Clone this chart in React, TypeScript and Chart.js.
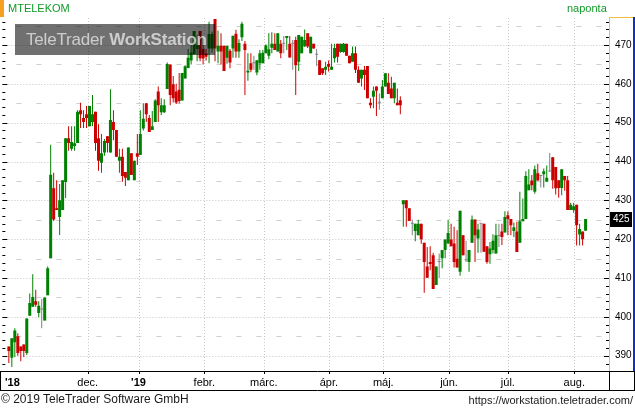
import React, { useEffect, useRef } from 'react';
import { Chart, registerables } from 'chart.js';
Chart.register(...registerables);

// Daily candles (MTELEKOM), left to right, one trading day each
const openP = [
  392.4, 389.5, 393.5, 395, 392.4, 392.9, 390.7, 400.3, 402.6, 404,
  401, 401.9, 399.1, 405.6, 415.1, 433.1, 428, 425.7, 427.5, 434.7,
  446, 443.3, 444, 444.8, 453.2, 451.2, 452.2, 449.1, 450.2, 452.8,
  446, 439.7, 442.3, 446.5, 442.3, 450.2, 448.1, 440.2, 441.2, 437.3,
  435.2, 442.1, 435.2, 442.1, 441.7, 448.5, 455, 451.2, 448.1, 450.2,
  458, 452.7, 452.7, 458.7, 465, 459.9, 458, 458.5, 455.7, 461.4,
  464.1, 466, 467.6, 469, 473.6, 469, 467.8, 469.1, 469.1, 476.7,
  468.3, 469.8, 469.8, 466.7, 468.5, 469.1, 472.9, 468.3, 472, 470.3,
  462.9, 465.3, 465.3, 462.9, 465.3, 465.3, 467.9, 467.2, 469.3, 470.3,
  468.3, 470.3, 470.3, 471.8, 470.3, 470.3, 471.3, 465.7, 467.9, 469.7,
  473, 467.9, 470.3, 467.5, 466.1, 464, 463.6, 465.1, 463.6, 466.6,
  470.3, 468.2, 468.2, 470.3, 467.2, 465.7, 467.9, 463.6, 461.4, 463.6,
  464.6, 455.1, 456.7, 459.3, 455.1, 456.3, 459.3, 460.3, 458.8, 456.3,
  455.1, 455.8, 429, 430, 428, 424, 422.1, 421, 424, 419.1,
  413, 414.1, 415.9, 408.2, 414.1, 415.1, 417.2, 418.9, 419.9, 418.9,
  415, 411.6, 421, 414.6, 414.1, 419.1, 425.1, 420.2, 424, 424,
  418.2, 416.1, 417.2, 416.3, 420.8, 422, 421.7, 426.2, 425.2, 422.1,
  422, 419.1, 424.6, 425.2, 432.6, 435.1, 432.2, 437, 436.3, 436.7,
  434.8, 437.4, 441.1, 438.6, 435.2, 433.2, 436.3, 435.2, 427.5, 427.5,
  428.9, 421.2, 422, 422.2,
];
const highP = [
  392.4, 394.5, 397.1, 395.8, 392.4, 392.9, 399.6, 406, 411, 407,
  404, 404.6, 405, 413, 444.3, 437.1, 435.2, 434.2, 435.2, 446,
  449.1, 449.1, 449.1, 453.2, 455.1, 453.2, 454.3, 454.3, 457.1, 452.8,
  449.6, 447.1, 445.8, 446.5, 458.6, 453.2, 448.1, 443.3, 443.3, 437.3,
  443.6, 442.1, 440.2, 447.1, 453.2, 455, 455, 452, 453, 456,
  459.3, 456.3, 456, 465.5, 465, 462, 460, 462.8, 462.8, 464.8,
  469, 470, 473.6, 472.5, 473.6, 470, 469, 476, 473.5, 476.7,
  473.7, 473, 469.8, 469.8, 469, 472.4, 473.9, 471.5, 476, 471,
  467.9, 467.9, 467.2, 466.1, 468.7, 468.7, 470.2, 473, 473.3, 473,
  473, 471.3, 472.3, 472.3, 472.3, 471.3, 472.1, 472.6, 472.1, 474,
  473, 472.1, 470.3, 469, 466.1, 464, 465.7, 466, 470.3, 470.3,
  470.3, 470.3, 470.5, 470.3, 467.2, 469.6, 469.6, 464.5, 463.6, 464.6,
  464.6, 456.3, 459.3, 459.3, 457.5, 461, 462.7, 462.7, 461.8, 460.3,
  458.8, 456.8, 430, 430, 428, 425.1, 424, 425, 424, 419.1,
  418, 418.2, 416.5, 413, 416.3, 417.2, 419.9, 425, 424, 423.2,
  422.3, 427.3, 421, 419.6, 417.2, 426.1, 425.1, 424, 424, 424,
  418.2, 419.3, 421.3, 424, 424, 424, 427.2, 427.2, 425.2, 424.3,
  424.5, 432.2, 430.5, 437.5, 438, 436.5, 439, 439.4, 436.6, 438.2,
  439, 442.2, 441.1, 438.6, 435.2, 438, 436.3, 436.3, 429.4, 429.4,
  428.9, 424, 422, 425.2,
];
const lowP = [
  388.1, 387.1, 389.7, 390, 388.6, 389.7, 390.2, 400.3, 402.6, 402.6,
  399.9, 397.1, 399.1, 405.6, 415.1, 424.7, 427.5, 421.1, 427.5, 430.6,
  442.8, 442.8, 442.8, 444.8, 448.6, 448.6, 448.6, 449.1, 449.1, 442.8,
  437.6, 437.1, 441.5, 442.3, 442.3, 445.5, 441.2, 437.1, 434.8, 433.7,
  435.2, 436.5, 435.2, 439.1, 441.7, 448, 450.2, 447.6, 448.1, 450.2,
  450.2, 452, 452.5, 458.7, 454.5, 455.2, 454.8, 455, 455.7, 461.4,
  464, 465, 467.6, 465.8, 465.8, 465, 466, 465.3, 468, 465.8,
  465.3, 465, 463.3, 465.2, 464, 466.7, 466.7, 466.7, 471, 457.1,
  460.8, 463, 463.6, 462.2, 463.6, 465.3, 467.9, 466.3, 467.9, 468.7,
  468.3, 466.6, 467.9, 468.7, 466.8, 463.6, 457.1, 463.3, 467.9, 469.5,
  469.2, 467.9, 469.1, 464.6, 462.3, 462.3, 462.3, 463.2, 463.6, 465.5,
  465.5, 468, 468, 467.2, 465.3, 465.7, 462.8, 460.3, 459.3, 458.4,
  456.3, 453.7, 453.7, 451.7, 453.3, 456.3, 459.3, 457.4, 456.3, 455,
  454.5, 452.2, 423.2, 423.2, 424.7, 421, 419.5, 421, 418.8, 406.2,
  410.1, 412, 407.2, 408.2, 410, 412.5, 415.1, 418.9, 418.2, 412.7,
  412.7, 410.6, 415.9, 414.1, 411.6, 419.1, 414.1, 416.5, 416.5, 416.8,
  413.7, 413.7, 416.3, 416.3, 418, 418.5, 421.7, 421, 421, 420.6,
  416.7, 419.1, 424.6, 425.2, 432.6, 432.6, 431.7, 435.1, 433.3, 433.3,
  434.8, 437.4, 433, 431.5, 430.7, 431.3, 432.5, 427.5, 427.5, 426.8,
  418.4, 418.4, 418.4, 422.2,
];
const closeP = [
  391.2, 394.5, 396.5, 390.7, 391.2, 391.2, 399.6, 403.6, 405.1, 403.1,
  402.9, 401.9, 405, 412.5, 436.6, 425.1, 427.5, 430, 435.2, 446,
  444.8, 445, 444.7, 452.8, 452.2, 450.2, 451.2, 454.3, 452.2, 444.8,
  440.2, 442.1, 445.3, 444.8, 450.7, 448.1, 441.2, 441.2, 436.3, 435.8,
  443.6, 436.5, 440.2, 441.2, 447.1, 451, 452.2, 447.6, 449.1, 455.7,
  454.5, 454.5, 454.5, 465.1, 457.1, 456.3, 455.2, 455.6, 462.8, 464.5,
  466.7, 468, 473.6, 470, 466.6, 466.5, 467, 472.8, 472.8, 469.1,
  469.8, 468.3, 463.3, 469.8, 465.5, 472.4, 468.3, 470.5, 475.5, 468.7,
  463.4, 463.6, 465.3, 466.1, 467.9, 468, 469.9, 468.9, 470.3, 468.7,
  473, 467.9, 470.3, 472.3, 466.8, 470.3, 464.8, 472.6, 472.1, 471.3,
  469.6, 472.1, 469.1, 467.5, 462.3, 462.7, 464.4, 464.4, 464.4, 469.2,
  467, 470.3, 470.3, 467.2, 465.3, 467.9, 463.6, 460.3, 463.6, 462.3,
  456.3, 454.5, 458.2, 458.2, 455.1, 459.3, 462.7, 457.4, 456.3, 460.3,
  454.5, 454.5, 430, 428, 424.7, 424, 424, 424, 420, 414.1,
  410.1, 413.6, 407.2, 413, 414.1, 417.2, 419.9, 421.6, 418.2, 414.1,
  412.7, 427.3, 415.9, 414.6, 417.2, 425.1, 421, 422.5, 424, 416.8,
  414.1, 417.6, 419.6, 421, 420.8, 420.6, 425.7, 425.2, 423.6, 423.1,
  416.7, 424.6, 425.2, 436.3, 434.1, 433.9, 438, 435.1, 436.3, 437.5,
  435.8, 437.4, 435.2, 433.1, 433.2, 438, 435.2, 427.5, 428.9, 428.5,
  423.6, 422.6, 420, 425.2,
];

// Axis ticks and labels
const priceTicks = [390, 400, 410, 420, 430, 440, 450, 460, 470];
const halfTicks = [395, 405, 415, 425, 435, 445, 455, 465, 475];
const monthLabels = ["'18", 'dec.', "'19", 'febr.', 'márc.', 'ápr.', 'máj.', 'jún.', 'júl.', 'aug.'];
const monthPos = [1.2, 26.4, 43.4, 65.4, 85.3, 107.1, 125.3, 147.3, 167, 189.2];

const GREEN = '#008000';
const RED = '#cc0000';
const GRAY = '#808080';

export default function App() {
  const ref = useRef<HTMLCanvasElement | null>(null);

  useEffect(() => {
    const canvas = ref.current;
    if (!canvas) return;
    const colors = openP.map((o, i) =>
      closeP[i] > o ? GREEN : closeP[i] < o ? RED : GRAY
    );
    const bodies = openP.map((o, i) => ({
      x: i,
      y: [Math.min(o, closeP[i]), Math.max(o, closeP[i])],
    }));
    const wicks = openP.map((_, i) => ({ x: i, y: [lowP[i], highP[i]] }));

    const decor = {
      id: 'decor',
      beforeDatasetsDraw(chart: any) {
        const { ctx, chartArea: a, scales } = chart;
        const y = scales.y;
        const x = scales.x;
        ctx.save();
        ctx.lineWidth = 1;
        // 10-level dotted lines
        ctx.strokeStyle = '#c4c4c4';
        ctx.setLineDash([1, 2]);
        priceTicks.forEach((v) => {
          const py = Math.round(y.getPixelForValue(v)) + 0.5;
          ctx.beginPath();
          ctx.moveTo(a.left, py);
          ctx.lineTo(a.right, py);
          ctx.stroke();
        });
        // month dotted lines (no line for the first label)
        monthPos.slice(1).forEach((v) => {
          const px = Math.round(x.getPixelForValue(v)) + 0.5;
          ctx.beginPath();
          ctx.moveTo(px, a.top);
          ctx.lineTo(px, a.bottom);
          ctx.stroke();
        });
        // 5-level dashes
        ctx.strokeStyle = '#cfcfcf';
        ctx.setLineDash([5, 15]);
        halfTicks.forEach((v) => {
          const py = Math.round(y.getPixelForValue(v)) + 0.5;
          ctx.beginPath();
          ctx.moveTo(a.left + 14, py);
          ctx.lineTo(a.right, py);
          ctx.stroke();
        });
        // edge tick marks every 2 units
        ctx.setLineDash([]);
        ctx.strokeStyle = '#000';
        for (let v = 388; v <= 476; v += 2) {
          const py = Math.round(y.getPixelForValue(v)) + 0.5;
          const len = v % 10 === 0 ? 5 : 3;
          ctx.beginPath();
          ctx.moveTo(a.left, py);
          ctx.lineTo(a.left + len, py);
          ctx.moveTo(a.right - len, py);
          ctx.lineTo(a.right, py);
          ctx.stroke();
        }
        ctx.restore();
      },
      afterDraw(chart: any) {
        const { ctx, chartArea: a, scales, width } = chart;
        const y = scales.y;
        const x = scales.x;
        ctx.save();
        ctx.lineWidth = 1;
        // x strip frame
        ctx.strokeStyle = '#000';
        ctx.beginPath();
        ctx.moveTo(0, a.bottom + 0.5);
        ctx.lineTo(width, a.bottom + 0.5);
        ctx.moveTo(0, a.bottom + 19.5);
        ctx.lineTo(width, a.bottom + 19.5);
        ctx.moveTo(0.5, a.bottom);
        ctx.lineTo(0.5, a.bottom + 20);
        ctx.moveTo(a.right + 0.5, a.bottom);
        ctx.lineTo(a.right + 0.5, a.bottom + 20);
        ctx.moveTo(width - 0.5, a.bottom);
        ctx.lineTo(width - 0.5, a.bottom + 20);
        // small month tick marks under the strip line
        monthPos.slice(1).forEach((v) => {
          const px = Math.round(x.getPixelForValue(v)) + 0.5;
          ctx.moveTo(px, a.bottom);
          ctx.lineTo(px, a.bottom + 3);
        });
        ctx.stroke();
        // right price box borders
        ctx.strokeStyle = '#f0c040';
        ctx.beginPath();
        ctx.moveTo(a.right + 0.5, a.top - 1);
        ctx.lineTo(a.right + 0.5, a.bottom);
        ctx.moveTo(a.right, a.top - 0.5);
        ctx.lineTo(width - 2, a.top - 0.5);
        ctx.stroke();
        ctx.strokeStyle = '#1030c0';
        ctx.lineWidth = 2;
        ctx.beginPath();
        ctx.moveTo(width - 1, a.top - 1);
        ctx.lineTo(width - 1, a.bottom);
        ctx.stroke();
        // last price box
        const last = closeP[closeP.length - 1];
        const py = Math.round(y.getPixelForValue(last));
        ctx.fillStyle = '#000';
        ctx.fillRect(a.right + 1, py - 7, 22, 15);
        ctx.fillStyle = '#fff';
        ctx.font = '10px "Liberation Sans", Arial, sans-serif';
        ctx.textBaseline = 'middle';
        ctx.textAlign = 'left';
        ctx.fillText(String(Math.round(last)), a.right + 4, py + 0.5);
        ctx.restore();
      },
    };

    const chart = new Chart(canvas, {
      type: 'bar',
      data: {
        datasets: [
          {
            data: bodies as any,
            backgroundColor: colors,
            barThickness: 3,
            minBarLength: 1,
            grouped: false,
            borderWidth: 0,
            inflateAmount: 0,
          } as any,
          {
            data: wicks as any,
            backgroundColor: colors,
            barThickness: 1,
            grouped: false,
            borderWidth: 0,
            inflateAmount: 0,
          } as any,
        ],
      },
      options: {
        animation: false,
        responsive: false,
        maintainAspectRatio: false,
        layout: { padding: { top: 18, bottom: 18, left: 0, right: 0 } },
        plugins: { legend: { display: false }, tooltip: { enabled: false }, title: { display: false } },
        scales: {
          x: {
            type: 'linear',
            min: -6.5 / 3,
            max: -6.5 / 3 + 609 / 3,
            offset: false,
            grid: { display: false, drawTicks: false },
            border: { display: false },
            afterBuildTicks: (s: any) => {
              s.ticks = monthPos.map((v) => ({ value: v }));
            },
            afterFit: (s: any) => {
              s.height = 19;
            },
            ticks: {
              autoSkip: false,
              maxRotation: 0,
              minRotation: 0,
              padding: 5,
              color: '#000',
              callback: (_v: any, i: number) => monthLabels[i],
              font: (c: any) => ({
                family: '"Liberation Sans", Arial, sans-serif',
                size: 11,
                weight: c.index === 0 || c.index === 2 ? 'bold' : 'normal',
              }),
            },
          },
          y: {
            type: 'linear',
            position: 'right',
            min: 386.07,
            max: 476.95,
            grid: { display: false, drawTicks: false },
            border: { display: false },
            afterBuildTicks: (s: any) => {
              s.ticks = priceTicks.map((v) => ({ value: v }));
            },
            afterFit: (s: any) => {
              s.width = 26;
            },
            ticks: {
              padding: 6,
              color: '#000',
              font: { family: '"Liberation Sans", Arial, sans-serif', size: 10 },
            },
          },
        },
      } as any,
      plugins: [decor],
    });
    return () => chart.destroy();
  }, []);

  const font = '"Liberation Sans", Arial, sans-serif';
  return (
    <div
      style={{
        position: 'fixed',
        left: 0,
        top: 0,
        width: 635,
        height: 408,
        background: '#fff',
        overflow: 'hidden',
        fontFamily: font,
      }}
    >
      <canvas ref={ref} width={635} height={408} style={{ position: 'absolute', left: 0, top: 0, width: 635, height: 408 }} />
      <div style={{ position: 'absolute', left: 0, top: 0, width: 4, height: 17, background: '#f5a020' }} />
      <div style={{ position: 'absolute', left: 8, top: 2, fontSize: 11, lineHeight: '13px', color: '#139a2a' }}>MTELEKOM</div>
      <div style={{ position: 'absolute', left: 567, top: 2, fontSize: 11, lineHeight: '13px', color: '#139a2a' }}>naponta</div>
      <div
        style={{
          position: 'absolute',
          left: 15,
          top: 24,
          width: 200,
          height: 31,
          background: 'rgba(0,0,0,0.56)',
          color: 'rgba(235,235,235,0.75)',
          fontSize: 17,
          lineHeight: '31px',
          paddingLeft: 11,
          boxSizing: 'border-box',
          whiteSpace: 'nowrap',
          overflow: 'hidden',
          letterSpacing: -0.2,
        }}
      >
        TeleTrader <b>WorkStation</b>
      </div>
      <div style={{ position: 'absolute', left: 1, top: 392, fontSize: 12, lineHeight: '15px', color: '#1a1a1a' }}>
        © 2019 TeleTrader Software GmbH
      </div>
      <div style={{ position: 'absolute', right: 2, top: 393, fontSize: 11, lineHeight: '14px', color: '#1a1a1a' }}>
        https://workstation.teletrader.com/
      </div>
    </div>
  );
}
